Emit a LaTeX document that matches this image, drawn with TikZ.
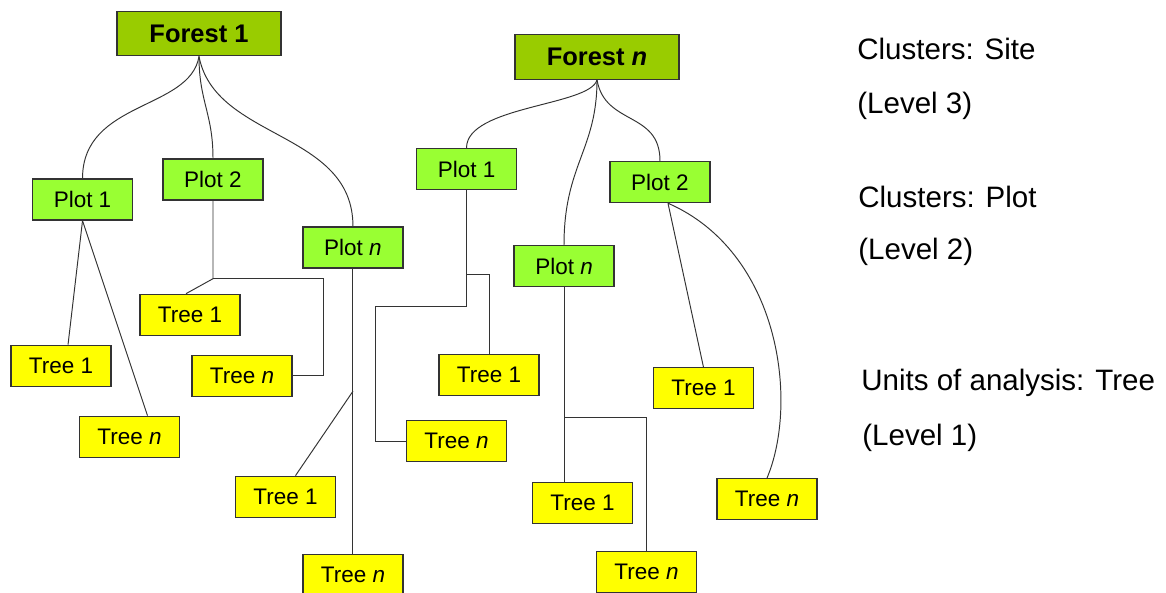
\documentclass[tikz,border=0pt]{standalone}
\usepackage{fontspec}
\setmainfont{Liberation Sans}
\usepackage{tikz}
\usetikzlibrary{positioning,calc}
\definecolor{forestgreen}{HTML}{99CC00}
\definecolor{plotgreen}{HTML}{99FF33}
\definecolor{treeyellow}{HTML}{FFFF00}
\definecolor{edgegray}{HTML}{333333}

\begin{document}
\begin{tikzpicture}[
  x=0.02cm, y=-0.02cm,
  bx/.style={draw=edgegray, line width=0.75pt, minimum width=20mm, minimum height=8.2mm, inner sep=0pt, align=center, font=\fontsize{12.8}{15}\selectfont},
  forestbx/.style={bx, fill=forestgreen, minimum width=32.8mm, minimum height=8.9mm, font=\fontsize{14.5}{17}\selectfont\bfseries},
  plotbx/.style={bx, fill=plotgreen},
  treebx/.style={bx, fill=treeyellow},
  lbl/.style={anchor=base west, inner sep=0pt, font=\fontsize{16.8}{20}\selectfont},
  link/.style={draw=edgegray, line width=0.55pt},
]
\useasboundingbox (0,0) rectangle (1166,592);

\node[forestbx] (f1) at (199,33.5) {Forest 1};
\node[forestbx] (fn) at (597,57) {Forest \textit{n}};

% plots
\node[plotbx, below=24.4mm of f1, xshift=-23.3mm] (pa1) {Plot 1};
\node[plotbx, below=20.4mm of f1, xshift=2.8mm] (pa2) {Plot 2};
\node[plotbx, below=34mm of f1, xshift=30.8mm] (pan) {Plot \textit{n}};
\node[plotbx, below=13.6mm of fn, xshift=-26.1mm] (pb1) {Plot 1};
\node[plotbx, below=16.2mm of fn, xshift=12.6mm] (pb2) {Plot 2};
\node[plotbx, below=33mm of fn, xshift=-6.6mm] (pbn) {Plot \textit{n}};

% trees
\node[treebx, below=24.8mm of pa1, xshift=-4.3mm] (ta11) {Tree 1};
\node[treebx, below=39mm of pa1, xshift=9.4mm] (ta1n) {Tree \textit{n}};
\node[treebx, below=18.6mm of pa2, xshift=-4.6mm] (ta21) {Tree 1};
\node[treebx, below=30.8mm of pa2, xshift=5.8mm] (ta2n) {Tree \textit{n}};
\node[treebx, below=41.4mm of pan, xshift=-13.5mm] (tan1) {Tree 1};
\node[treebx, below=57mm of pan] (tann) {Tree \textit{n}};
\node[treebx, below=32.8mm of pb1, xshift=4.5mm] (tb11) {Tree 1};
\node[treebx, below=46mm of pb1, xshift=-2mm] (tb1n) {Tree \textit{n}};
\node[treebx, below=32.8mm of pb2, xshift=8.7mm] (tb21) {Tree 1};
\node[treebx, below=55mm of pb2, xshift=21.4mm] (tb2n) {Tree \textit{n}};
\node[treebx, below=39mm of pbn, xshift=3.7mm] (tbn1) {Tree 1};
\node[treebx, below=52.8mm of pbn, xshift=16.5mm] (tbnn) {Tree \textit{n}};

% forest -> plot
\draw[link] (f1.south) .. controls +(-9,54) and +(0,-78) .. (pa1.north);
\draw[link] (f1.south) .. controls +(0,45) and +(0,-45) .. (pa2.north);
\draw[link] (f1.south) .. controls +(16,84) and +(0,-96) .. (pan.north);
\draw[link] (fn.south) .. controls +(-7,26) and +(0,-42) .. (pb1.north);
\draw[link] (fn.south) .. controls +(0,70) and +(0,-80) .. (pbn.north);
\draw[link] (fn.south) .. controls +(8,46) and +(0,-50) .. (pb2.north);

% plot -> tree
\draw[link] (pa1.south) -- ($(ta11.north)+(7,0)$);
\draw[link] (pa1.south) -- ($(ta1n.north)+(18,0)$);
\draw[link] (pa2.south) -- ++(0,78) coordinate (ja2) -- ($(ta21.north)+(-4,0)$);
\draw[link] (ja2) -| ($(ta2n.east)+(31,0)$) -- (ta2n.east);
\coordinate (jan) at ($(pan.south)!0.43!(tann.north)$);
\draw[link] (pan.south) -- (tann.north);
\draw[link] (jan) -- ($(tan1.north)+(10,0)$);

\draw[link] (pb1.south) -- ++(0,116) -| ($(tb1n.west)+(-30,0)$) -- (tb1n.west);
\draw[link] ($(pb1.south)+(0,84)$) -| (tb11.north);
\draw[link] (pbn.south) -- (pbn.south |- tbn1.north);
\draw[link] ($(pbn.south)+(0,130)$) -| (tbnn.north);
\draw[link] ($(pb2.south)+(8,0)$) -- (tb21.north);
\draw[link] ($(pb2.south)+(8,0)$) .. controls +(112,49) and +(32,-76) .. (tb2n.north);

% levels
\node[lbl] (site) at (857,59) {Clusters: Site};
\node[lbl] (lv3) at (857,113) {(Level 3)};
\node[lbl] (plotc) at (858,207) {Clusters: Plot};
\node[lbl] (lv2) at (858,259) {(Level 2)};
\node[lbl] (unit) at (861,390) {Units of analysis: Tree};
\node[lbl] (lv1) at (862,445) {(Level 1)};
\end{tikzpicture}
\end{document}
